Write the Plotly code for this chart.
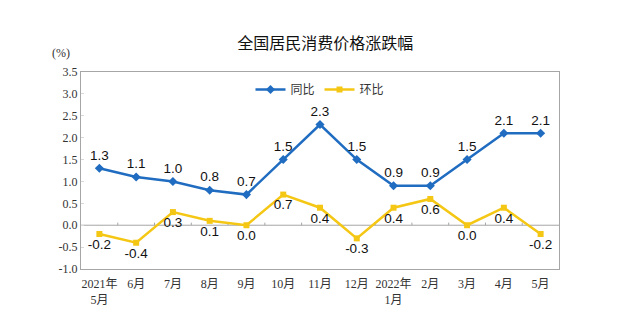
import plotly.graph_objects as go

categories = ["2021年<br>5月", "6月", "7月", "8月", "9月", "10月", "11月", "12月",
              "2022年<br>1月", "2月", "3月", "4月", "5月"]
yoy = [1.3, 1.1, 1.0, 0.8, 0.7, 1.5, 2.3, 1.5, 0.9, 0.9, 1.5, 2.1, 2.1]
mom = [-0.2, -0.4, 0.3, 0.1, 0.0, 0.7, 0.4, -0.3, 0.4, 0.6, 0.0, 0.4, -0.2]
y_ticks = [-1.0, -0.5, 0.0, 0.5, 1.0, 1.5, 2.0, 2.5, 3.0, 3.5]

blue = "#1f6cc0"
yellow = "#f5c715"
label_font = dict(family="Liberation Sans, Arial", size=13.5, color="#111111")
tick_font = dict(family="Liberation Serif, Times New Roman, Noto Sans CJK SC", size=12, color="#333333")

xs = list(range(len(categories)))

fig = go.Figure()
fig.add_trace(go.Scatter(
    x=xs, y=yoy, name="同比", mode="lines+markers+text",
    line=dict(color=blue, width=2.5),
    marker=dict(symbol="diamond", size=7, color=blue),
    text=[f"{v:.1f}" for v in yoy], textposition="top center",
    textfont=label_font,
))
fig.add_trace(go.Scatter(
    x=xs, y=mom, name="环比", mode="lines+markers+text",
    line=dict(color=yellow, width=2.5),
    marker=dict(symbol="square", size=6, color=yellow),
    text=[f"{v:.1f}" for v in mom], textposition="bottom center",
    textfont=label_font,
))

shapes = [dict(type="line", xref="x", yref="y", x0=-0.5, x1=len(categories) - 0.5,
               y0=0, y1=0, line=dict(color="#a6a6a6", width=1), layer="below")]
for i in range(len(categories) - 1):
    shapes.append(dict(type="line", xref="x", yref="y", x0=i + 0.5, x1=i + 0.5,
                       y0=0, y1=0.06, line=dict(color="#a6a6a6", width=1), layer="below"))

fig.update_layout(
    width=622, height=333,
    margin=dict(l=81, r=63, t=72, b=64),
    paper_bgcolor="white", plot_bgcolor="white",
    title=dict(text="全国居民消费价格涨跌幅", x=0.523, xanchor="center", y=1 - 43 / 333, yanchor="middle",
               font=dict(family="Noto Sans CJK SC", size=16, color="#111111")),
    showlegend=True,
    legend=dict(orientation="h", x=0.5, xanchor="center", y=0.985, yanchor="top",
                font=dict(family="Noto Sans CJK SC", size=12, color="#333333"),
                bgcolor="rgba(0,0,0,0)", itemwidth=30, tracegroupgap=0),
    xaxis=dict(tickmode="array", tickvals=xs, ticktext=categories, range=[-0.5, len(categories) - 0.5],
               showgrid=False, zeroline=False, showline=True, mirror=True, linecolor="#a6a6a6",
               linewidth=1, ticks="", tickfont=tick_font, ticklabelstandoff=4),
    yaxis=dict(range=[-1.0, 3.5], tickvals=y_ticks, ticktext=[f"{v:.1f}" for v in y_ticks],
               showgrid=False, zeroline=False, showline=True, mirror=True, linecolor="#a6a6a6",
               linewidth=1, ticks="inside", ticklen=3, tickcolor="#d9d9d9", tickfont=tick_font),
    shapes=shapes,
    annotations=[dict(text="(%)", xref="paper", yref="paper", x=-0.041, y=1 + 19 / 197,
                      xanchor="center", yanchor="middle", showarrow=False,
                      font=dict(family="Liberation Serif, Times New Roman", size=12, color="#333333"))],
)

fig.write_html("out.html")
